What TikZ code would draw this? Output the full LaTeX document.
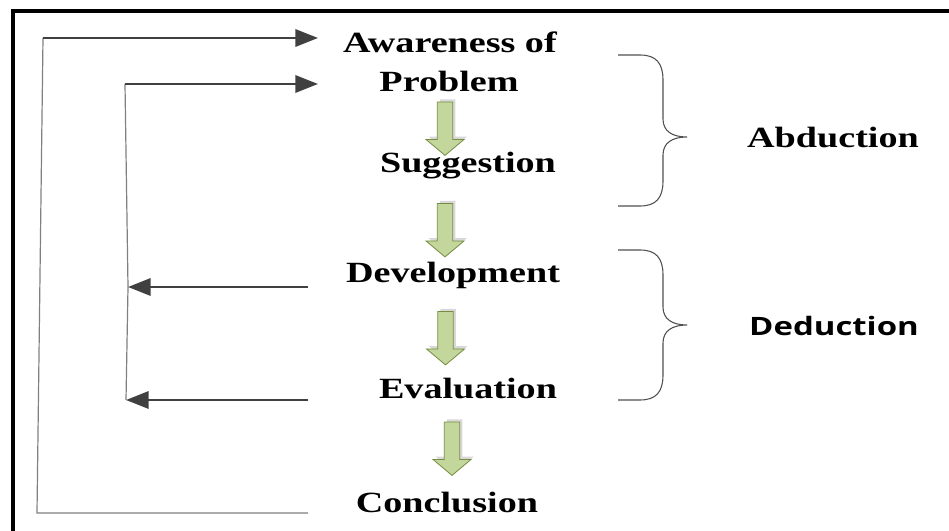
\documentclass[tikz,border=0pt]{standalone}
\usepackage{fontspec}
\setmainfont{Liberation Serif}
\newfontfamily\dedfont{Open Sans}
\usepackage{tikz}
\usetikzlibrary{arrows.meta,shapes.arrows,shadows}
\definecolor{olivefill}{RGB}{195,214,155}
\definecolor{olivedraw}{RGB}{118,140,66}
\definecolor{linedark}{RGB}{64,64,64}
\definecolor{linegrey}{RGB}{128,128,128}
\definecolor{bracegrey}{RGB}{80,80,80}

\begin{document}
\begin{tikzpicture}
  [x=0.75pt,y=-0.75pt,
 stage/.style={
  font=\fontsize{22}{26}\selectfont\bfseries,
  xscale=1.3,
  inner sep=0pt,
  anchor=base},
 phase/.style={
  font=\dedfont\fontsize{19}{23}\selectfont\bfseries,
  xscale=1.3,
  inner sep=0pt,
  anchor=base},
 flow/.style={
  single arrow,
  rotate=-90,
  draw=olivedraw,
  fill=olivefill,
  line width=0.6pt,
  inner sep=5.5pt,
  minimum height=40pt,
  single arrow head extend=8.5pt,
  single arrow tip angle=100,
  drop shadow={shadow xshift=2pt,shadow yshift=2pt,fill=black!30}},
 rail/.style={draw=linegrey, line width=0.9pt},
 tip/.style={draw=linedark, line width=1.8pt, -{Triangle[length=17pt,width=13pt]}}]
\useasboundingbox (0,0) rectangle (949,531);
\draw[line width=3pt] (13,531) -- (13,11) -- (949,11); % frame
\node (awareness) [stage] at (450,53) {Awareness of};
\node (problem) [stage] at (449,92) {Problem};
\node (suggestion) [stage] at (468,172) {Suggestion};
\node (development) [stage] at (453,282) {Development};
\node (evaluation) [stage] at (468,398) {Evaluation};
\node (conclusion) [stage] at (447,512) {Conclusion};
\node (abduction) [stage] at (833,147) {Abduction};
\node (deduction) [phase] at (834,335) {Deduction};
\node (flowA) [flow] at (445,125.5) {};
\node (flowB) [flow] at (445,227) {};
\node (flowC) [flow] at (445.5,335) {};
\node (flowD) [flow] at (452,445.5) {};
\coordinate (outerTop) at (43,38);
\coordinate (outerBot) at (37,513);
\coordinate (conOut) at (308,513);
\coordinate (awaIn) at (318,38);
\coordinate (innerTop) at (125,84);
\coordinate (innerMid) at (128,287);
\coordinate (innerLow) at (126,400);
\coordinate (proIn) at (318,84);
\coordinate (devOut) at (308,287);
\coordinate (evaOut) at (308,400);
\draw[rail] (conOut) -- (outerBot) -- (outerTop);
\draw[rail] (innerLow) -- (innerMid) -- (innerTop);
\path (outerTop) edge[tip] (awaIn);
\path (innerTop) edge[tip] (proIn);
\path (devOut) edge[tip] (innerMid);
\path (evaOut) edge[tip] (innerLow);
\draw[draw=bracegrey, line width=0.8pt] (618,55) -- (640,55) .. controls (656,55) and (663,63) .. (663,80)
 -- (663,119) .. controls (663,131) and (672,137) .. (687,137) .. controls (672,137) and (663,143) .. (663,155)
 -- (663,181) .. controls (663,198) and (656,206) .. (640,206) -- (618,206);
\draw[draw=bracegrey, line width=0.8pt] (618,250) -- (640,250) .. controls (656,250) and (663,258) .. (663,275)
 -- (663,307) .. controls (663,319) and (672,325) .. (687,325) .. controls (672,325) and (663,331) .. (663,343)
 -- (663,375) .. controls (663,392) and (656,400) .. (640,400) -- (618,400);
\end{tikzpicture}
\end{document}
